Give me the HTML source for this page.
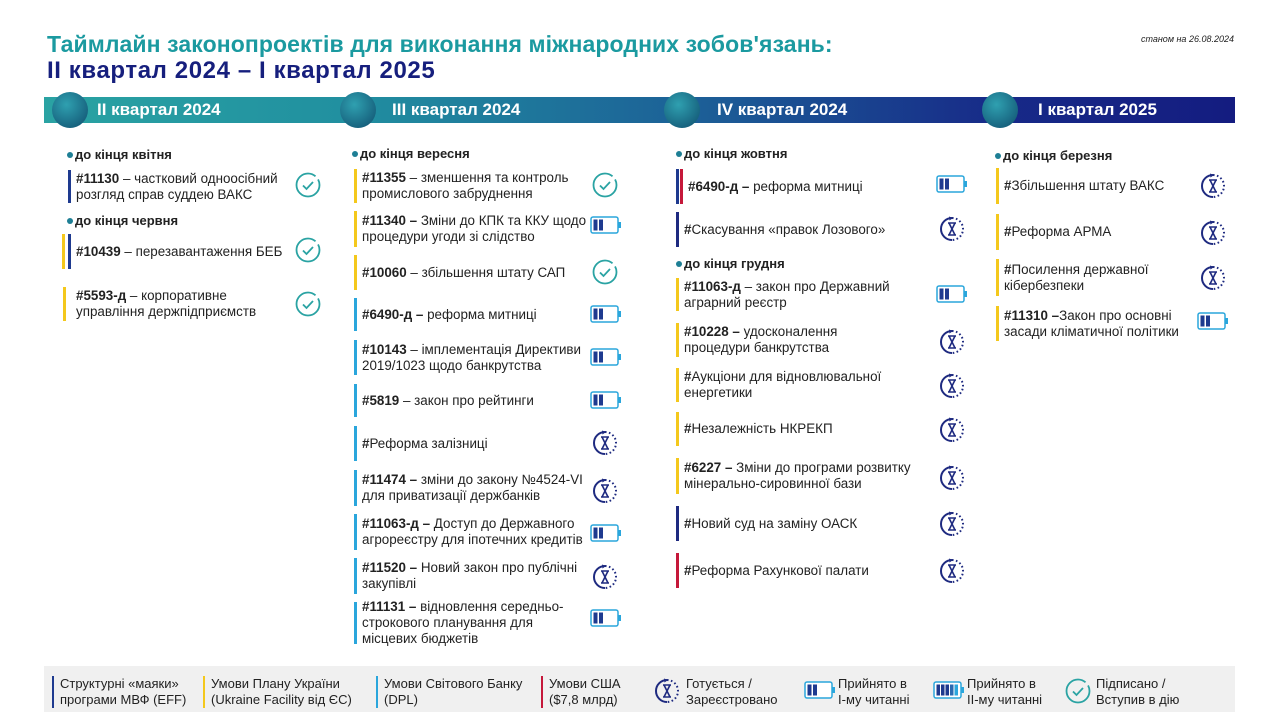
<!DOCTYPE html>
<html><head><meta charset="utf-8"><style>
*{margin:0;padding:0;box-sizing:border-box}
body{width:1280px;height:719px;background:#fff;position:relative;overflow:hidden;font-family:"Liberation Sans","DejaVu Sans",sans-serif;color:#222}
.t1,.t2{position:absolute;left:47px;font-weight:bold;font-size:23px;white-space:nowrap}
.t1{top:31px;color:#1b9aa0;letter-spacing:0.1px}.t2{top:57px;color:#161f7d;font-size:24px;letter-spacing:0.6px}
.date{position:absolute;right:46px;top:34px;font-size:9px;font-style:italic;color:#222}
.band{position:absolute;left:44px;top:97px;width:1191px;height:26px;background:linear-gradient(90deg,#2aa3a3 0%,#2190a0 25%,#1c5f97 55%,#172a88 80%,#141c80 100%)}
.circ{position:absolute;top:92px;width:36px;height:36px;border-radius:50%;background:radial-gradient(circle at 40% 35%,#2fa0b0,#17627e 75%,#124c70)}
.q{position:absolute;top:100px;color:#fff;font-weight:bold;font-size:17px;white-space:nowrap}
.h{position:absolute;font-weight:bold;font-size:13px;white-space:nowrap}
.h:before{content:"";display:inline-block;width:6px;height:6px;border-radius:50%;background:#1e7f95;margin-right:2px;vertical-align:1px}
.it{position:absolute;border-left:3px solid #1e3a8f;padding-left:5px;font-size:13.4px;line-height:16px;display:flex;align-items:center;white-space:nowrap}
.y{border-color:#f4c81c}.l{border-color:#2aa6dc}.r{border-color:#c5183a}.n{border-color:#1e2a80}
.it b{font-weight:bold}
.ic{position:absolute;width:28px;height:28px}
.leg{position:absolute;left:44px;top:666px;width:1191px;height:46px;background:#f0f0f0}
.lg{position:absolute;top:676px;font-size:13px;line-height:16px;border-left:2px solid;padding-left:6px;white-space:nowrap}
.lt{position:absolute;top:676px;font-size:13px;line-height:16px;white-space:nowrap}
</style></head><body>
<svg width="0" height="0" style="position:absolute">
<defs>
<symbol id="chk" viewBox="0 0 28 28"><circle cx="14" cy="14" r="11.5" fill="none" stroke="#2aa3a3" stroke-width="1.8" stroke-dasharray="62 4 6 100"/><path d="M9 14.5l3.5 3.5 6.5-7" fill="none" stroke="#2aa3a3" stroke-width="1.8"/></symbol>
<symbol id="bat" viewBox="0 0 32 20"><rect x="1" y="2" width="27" height="16" rx="2" fill="#fff" stroke="#2aa6dc" stroke-width="1.5"/><rect x="28.5" y="7" width="2.5" height="6" fill="#2aa6dc"/><rect x="3.5" y="4.5" width="4" height="11" fill="#1e3a8f"/><rect x="9" y="4.5" width="4" height="11" fill="#1e3a8f"/></symbol>
<symbol id="bat2" viewBox="0 0 32 20"><rect x="1" y="2" width="27" height="16" rx="2" fill="#fff" stroke="#2aa6dc" stroke-width="1.5"/><rect x="28.5" y="7" width="2.5" height="6" fill="#2aa6dc"/><rect x="3.5" y="4.5" width="3.5" height="11" fill="#1e3a8f"/><rect x="8" y="4.5" width="3.5" height="11" fill="#1e3a8f"/><rect x="12.5" y="4.5" width="3.5" height="11" fill="#1e3a8f"/><rect x="17" y="4.5" width="3.5" height="11" fill="#2a6ab0"/><rect x="21.5" y="4.5" width="3.5" height="11" fill="#2aa6dc"/></symbol>
<symbol id="hg" viewBox="0 0 28 28"><path d="M14 3A11 11 0 0 0 14 25" fill="none" stroke="#1e2a80" stroke-width="2"/><path d="M14 3A11 11 0 0 1 14 25" fill="none" stroke="#1e2a80" stroke-width="2" stroke-dasharray="1.6 2.4"/><path d="M11 1.5l4 1.5-3.5 2.5z" fill="#1e2a80"/><path d="M10 8h8M10 20h8M11 8l6 12M17 8l-6 12" fill="none" stroke="#1e2a80" stroke-width="1.6"/></symbol>
</defs></svg>

<div class="t1">Таймлайн законопроектів для виконання міжнародних зобов'язань:</div>
<div class="t2">ІІ квартал 2024 – І квартал 2025</div>
<div class="date">станом на 26.08.2024</div>

<div class="band"></div>
<div class="circ" style="left:52px"></div><div class="circ" style="left:340px"></div><div class="circ" style="left:664px"></div><div class="circ" style="left:982px"></div>
<div class="q" style="left:97px">ІІ квартал 2024</div>
<div class="q" style="left:392px">ІІІ квартал 2024</div>
<div class="q" style="left:717px">IV квартал 2024</div>
<div class="q" style="left:1038px">І квартал 2025</div>

<!-- col1 -->
<div class="h" style="left:67px;top:147px">до кінця квітня</div>
<div class="it" style="left:68px;top:170px;height:33px">
<div><b>#11130</b> – частковий одноосібний<br>розгляд справ суддею ВАКС</div></div>
<div class="h" style="left:67px;top:213px">до кінця червня</div>
<div style="position:absolute;left:62px;top:234px;width:3px;height:35px;background:#f4c81c"></div>
<div class="it" style="left:68px;top:234px;height:35px"><div><b>#10439</b> – перезавантаження БЕБ</div></div>
<div class="it y" style="left:63px;top:287px;height:34px;padding-left:10px"><div><b>#5593-д</b> – корпоративне<br>управління держпідприємств</div></div>
<svg class="ic" style="left:294px;top:171px"><use href="#chk"/></svg>
<svg class="ic" style="left:294px;top:236px"><use href="#chk"/></svg>
<svg class="ic" style="left:294px;top:290px"><use href="#chk"/></svg>

<!-- col2 -->
<div class="h" style="left:352px;top:146px">до кінця вересня</div>
<div class="it y" style="left:354px;top:169px;height:34px"><div><b>#11355</b> – зменшення та контроль<br>промислового забруднення</div></div>
<div class="it y" style="left:354px;top:211px;height:36px"><div><b>#11340 –</b> Зміни до КПК та ККУ щодо<br>процедури угоди зі слідство</div></div>
<div class="it y" style="left:354px;top:255px;height:35px"><div><b>#10060</b> – збільшення штату САП</div></div>
<div class="it l" style="left:354px;top:298px;height:33px"><div><b>#6490-д –</b> реформа митниці</div></div>
<div class="it l" style="left:354px;top:340px;height:35px"><div><b>#10143</b> – імплементація Директиви<br>2019/1023 щодо банкрутства</div></div>
<div class="it l" style="left:354px;top:384px;height:33px"><div><b>#5819</b> – закон про рейтинги</div></div>
<div class="it l" style="left:354px;top:426px;height:35px"><div><b>#</b>Реформа залізниці</div></div>
<div class="it l" style="left:354px;top:470px;height:36px"><div><b>#11474 –</b> зміни до закону №4524-VI<br>для приватизації держбанків</div></div>
<div class="it l" style="left:354px;top:514px;height:36px"><div><b>#11063-д –</b> Доступ до Державного<br>агрореєстру для іпотечних кредитів</div></div>
<div class="it l" style="left:354px;top:558px;height:36px"><div><b>#11520 –</b> Новий закон про публічні<br>закупівлі</div></div>
<div class="it l" style="left:354px;top:602px;height:42px"><div><b>#11131 –</b> відновлення середньо-<br>строкового планування для<br>місцевих бюджетів</div></div>
<svg class="ic" style="left:591px;top:171px"><use href="#chk"/></svg>
<svg class="ic" style="left:590px;top:215px;width:32px;height:20px"><use href="#bat"/></svg>
<svg class="ic" style="left:591px;top:258px"><use href="#chk"/></svg>
<svg class="ic" style="left:590px;top:304px;width:32px;height:20px"><use href="#bat"/></svg>
<svg class="ic" style="left:590px;top:347px;width:32px;height:20px"><use href="#bat"/></svg>
<svg class="ic" style="left:590px;top:390px;width:32px;height:20px"><use href="#bat"/></svg>
<svg class="ic" style="left:591px;top:429px"><use href="#hg"/></svg>
<svg class="ic" style="left:591px;top:477px"><use href="#hg"/></svg>
<svg class="ic" style="left:590px;top:523px;width:32px;height:20px"><use href="#bat"/></svg>
<svg class="ic" style="left:591px;top:563px"><use href="#hg"/></svg>
<svg class="ic" style="left:590px;top:608px;width:32px;height:20px"><use href="#bat"/></svg>

<!-- col3 -->
<div class="h" style="left:676px;top:146px">до кінця жовтня</div>
<div style="position:absolute;left:680px;top:169px;width:3px;height:35px;background:#c5183a"></div>
<div class="it" style="left:676px;top:169px;height:35px;padding-left:9px"><div><b>#6490-д –</b> реформа митниці</div></div>
<div class="it n" style="left:676px;top:212px;height:35px"><div><b>#</b>Скасування «правок Лозового»</div></div>
<div class="h" style="left:676px;top:256px">до кінця грудня</div>
<div class="it y" style="left:676px;top:278px;height:33px"><div><b>#11063-д</b> – закон про Державний<br>аграрний реєстр</div></div>
<div class="it y" style="left:676px;top:323px;height:34px"><div><b>#10228 –</b> удосконалення<br>процедури банкрутства</div></div>
<div class="it y" style="left:676px;top:368px;height:34px"><div><b>#</b>Аукціони для відновлювальної<br>енергетики</div></div>
<div class="it y" style="left:676px;top:412px;height:34px"><div><b>#</b>Незалежність НКРЕКП</div></div>
<div class="it y" style="left:676px;top:458px;height:36px"><div><b>#6227 –</b> Зміни до програми розвитку<br>мінерально-сировинної бази</div></div>
<div class="it n" style="left:676px;top:506px;height:35px"><div><b>#</b>Новий суд на заміну ОАСК</div></div>
<div class="it r" style="left:676px;top:553px;height:35px"><div><b>#</b>Реформа Рахункової палати</div></div>
<svg class="ic" style="left:936px;top:174px;width:32px;height:20px"><use href="#bat"/></svg>
<svg class="ic" style="left:938px;top:215px"><use href="#hg"/></svg>
<svg class="ic" style="left:936px;top:284px;width:32px;height:20px"><use href="#bat"/></svg>
<svg class="ic" style="left:938px;top:328px"><use href="#hg"/></svg>
<svg class="ic" style="left:938px;top:372px"><use href="#hg"/></svg>
<svg class="ic" style="left:938px;top:416px"><use href="#hg"/></svg>
<svg class="ic" style="left:938px;top:464px"><use href="#hg"/></svg>
<svg class="ic" style="left:938px;top:510px"><use href="#hg"/></svg>
<svg class="ic" style="left:938px;top:557px"><use href="#hg"/></svg>

<!-- col4 -->
<div class="h" style="left:995px;top:148px">до кінця березня</div>
<div class="it y" style="left:996px;top:168px;height:36px"><div><b>#</b>Збільшення штату ВАКС</div></div>
<div class="it y" style="left:996px;top:214px;height:36px"><div><b>#</b>Реформа АРМА</div></div>
<div class="it y" style="left:996px;top:259px;height:37px"><div><b>#</b>Посилення державної<br>кібербезпеки</div></div>
<div class="it y" style="left:996px;top:306px;height:35px"><div><b>#11310 –</b>Закон про основні<br>засади кліматичної політики</div></div>
<svg class="ic" style="left:1199px;top:172px"><use href="#hg"/></svg>
<svg class="ic" style="left:1199px;top:219px"><use href="#hg"/></svg>
<svg class="ic" style="left:1199px;top:264px"><use href="#hg"/></svg>
<svg class="ic" style="left:1197px;top:311px;width:32px;height:20px"><use href="#bat"/></svg>

<!-- legend -->
<div class="leg"></div>
<div class="lg" style="left:52px;border-color:#1e3a8f">Структурні «маяки»<br>програми МВФ (EFF)</div>
<div class="lg" style="left:203px;border-color:#f4c81c">Умови Плану України<br>(Ukraine Facility від ЄС)</div>
<div class="lg" style="left:376px;border-color:#2aa6dc">Умови Світового Банку<br>(DPL)</div>
<div class="lg" style="left:541px;border-color:#c5183a">Умови США<br>($7,8 млрд)</div>
<svg class="ic" style="left:653px;top:677px"><use href="#hg"/></svg>
<div class="lt" style="left:686px">Готується /<br>Зареєстровано</div>
<svg class="ic" style="left:804px;top:680px;width:32px;height:20px"><use href="#bat"/></svg>
<div class="lt" style="left:838px">Прийнято в<br>І-му читанні</div>
<svg class="ic" style="left:933px;top:680px;width:32px;height:20px"><use href="#bat2"/></svg>
<div class="lt" style="left:967px">Прийнято в<br>ІІ-му читанні</div>
<svg class="ic" style="left:1064px;top:677px"><use href="#chk"/></svg>
<div class="lt" style="left:1096px">Підписано /<br>Вступив в дію</div>
</body></html>
